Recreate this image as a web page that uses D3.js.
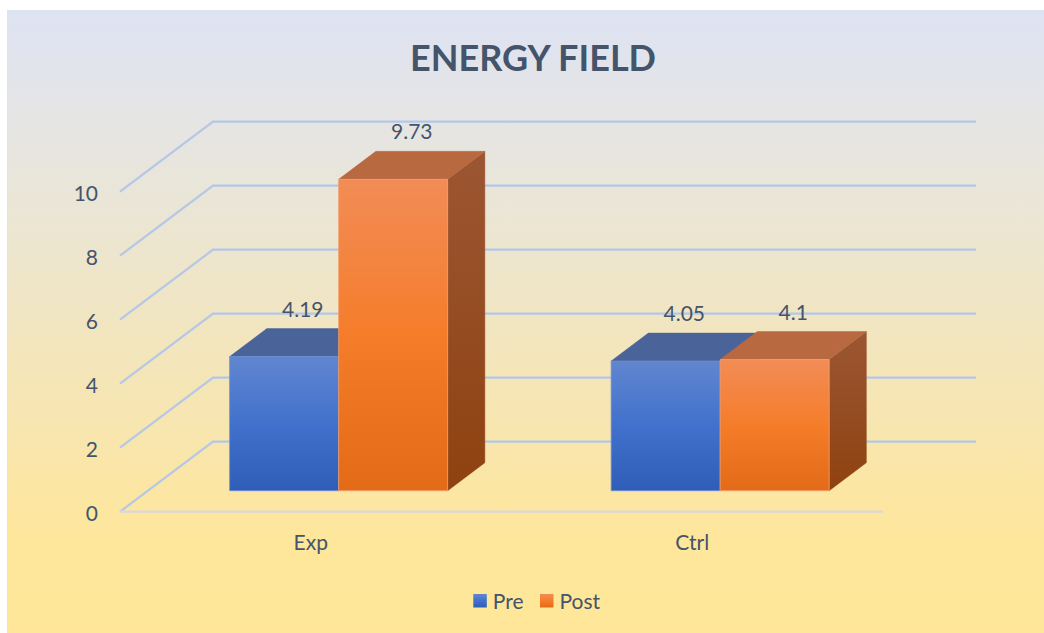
<!DOCTYPE html>
<html>
<head>
<meta charset="utf-8">
<script src="https://cdn.jsdelivr.net/npm/d3@7"></script>
<style>
  html, body { margin: 0; padding: 0; background: #ffffff; }
  svg { display: block; }
  text { font-family: Lato, "Open Sans", sans-serif; }
</style>
</head>
<body>
<svg id="chart" width="1044" height="633"></svg>
<script>
// ---- data ----
const title = "ENERGY FIELD";
const categories = ["Exp", "Ctrl"];
const seriesNames = ["Pre", "Post"];
const preValues = [4.19, 4.05];
const postValues = [9.73, 4.1];
const valueLabels = [["4.19", "9.73"], ["4.05", "4.1"]];
const yTicks = [0, 2, 4, 6, 8, 10];

// ---- layout ----
const W = 1044, H = 633;
const svg = d3.select("#chart");
const defs = svg.append("defs");

const bg = defs.append("linearGradient").attr("id", "bg").attr("x1", 0).attr("y1", 0).attr("x2", 0).attr("y2", 1);
bg.append("stop").attr("offset", "0%").attr("stop-color", "#dee3f3");
bg.append("stop").attr("offset", "20%").attr("stop-color", "#e6e5e2");
bg.append("stop").attr("offset", "85%").attr("stop-color", "#fee69b");
bg.append("stop").attr("offset", "100%").attr("stop-color", "#ffe699");

svg.append("rect").attr("x", 7).attr("y", 10).attr("width", W - 7).attr("height", H - 10)
  .attr("fill", "url(#bg)");
svg.append("line").attr("x1", 7.5).attr("x2", 7.5).attr("y1", 10).attr("y2", H)
  .attr("stroke", "#e3e3e3").attr("stroke-width", 1);

function grad(id, stops) {
  const g = defs.append("linearGradient").attr("id", id).attr("x1", 0).attr("y1", 0).attr("x2", 0).attr("y2", 1);
  stops.forEach(s => g.append("stop").attr("offset", s[0]).attr("stop-color", s[1]));
}
grad("preFront", [["0%", "#6186d0"], ["50%", "#4171cc"], ["100%", "#2f5db8"]]);
grad("postFront", [["0%", "#f28c56"], ["50%", "#f57d2a"], ["100%", "#e36a17"]]);
grad("postSide", [["0%", "#9b5633"], ["100%", "#8f4210"]]);
grad("preSide", [["0%", "#3f5c99"], ["100%", "#2a4a87"]]);

// 3D geometry
const floorFrontY = 511.7;
const depthVec = [93, -70];
const barFront = 0.3, barBack = 0.7;

const x0 = d3.scaleBand().domain(categories).range([120, 883]).padding(0);
const x1 = d3.scaleBand().domain(seriesNames).range([0, x0.bandwidth()]).paddingInner(0).paddingOuter(0.75);
const y = d3.scaleLinear().domain([0, 10]).range([0, 320]);

function proj(px, v, t) {
  return [px + depthVec[0] * t, floorFrontY - y(v) + depthVec[1] * t];
}

// gridlines: side wall diagonals + back wall lines
const grid = svg.append("g");
yTicks.forEach(v => {
  const a = proj(120, v, 0), b = proj(120, v, 1), c = proj(883, v, 1);
  grid.append("polyline")
    .attr("points", [a, b, c].map(p => p.join(",")).join(" "))
    .attr("fill", "none").attr("stroke", "#b4c7e7").attr("stroke-width", 2.2);
});
// floor front line
{
  const a = proj(120, 0, 0), b = proj(883, 0, 0);
  svg.append("line").attr("x1", a[0]).attr("y1", a[1]).attr("x2", b[0]).attr("y2", b[1])
    .attr("stroke", "#d9d9d9").attr("stroke-width", 2.2);
}

// y axis labels (front)
const yAxis = d3.axisLeft(d3.scaleLinear().domain([0, 10]).range([floorFrontY, floorFrontY - 320]))
  .tickValues(yTicks).tickSize(0).tickPadding(0);
const ya = svg.append("g").attr("transform", "translate(98,0)").call(yAxis);
ya.select(".domain").remove();
ya.selectAll("text").attr("font-size", 21).attr("fill", "#44546a")
  .attr("font-family", "Lato, sans-serif").attr("dy", "0.42em").attr("x", 0);

// category labels
svg.append("g").selectAll("text").data(categories).join("text")
  .attr("x", d => x0(d) + x0.bandwidth() / 2)
  .attr("y", 550)
  .attr("text-anchor", "middle").attr("font-size", 21).attr("fill", "#44546a")
  .text(d => d);

// bars
const bars = [];
categories.forEach((c, i) => {
  bars.push({ cat: c, s: "Pre", v: preValues[i], label: valueLabels[i][0] });
  bars.push({ cat: c, s: "Post", v: postValues[i], label: valueLabels[i][1] });
});
const style = {
  Pre: { front: "url(#preFront)", top: "#4a6399", side: "url(#preSide)", stroke: "#6d8fd6" },
  Post: { front: "url(#postFront)", top: "#b8693f", side: "url(#postSide)", stroke: "#f0a070" }
};
const gb = svg.append("g");
bars.forEach(b => {
  const L = x0(b.cat) + x1(b.s), R = L + x1.bandwidth();
  const st = style[b.s];
  const pts = arr => arr.map(p => p.join(",")).join(" ");
  const fbl = proj(L, 0, barFront), fbr = proj(R, 0, barFront);
  const ftl = proj(L, b.v, barFront), ftr = proj(R, b.v, barFront);
  const btl = proj(L, b.v, barBack), btr = proj(R, b.v, barBack), bbr = proj(R, 0, barBack);
  // side face
  gb.append("polygon").attr("points", pts([fbr, ftr, btr, bbr])).attr("fill", st.side)
    .attr("stroke", st.side).attr("stroke-width", 0.5);
  // top face
  gb.append("polygon").attr("points", pts([ftl, ftr, btr, btl])).attr("fill", st.top)
    .attr("stroke", st.top).attr("stroke-width", 0.5);
  // front face
  gb.append("polygon").attr("points", pts([fbl, fbr, ftr, ftl])).attr("fill", st.front)
    .attr("stroke", st.stroke).attr("stroke-width", 0.8);
  b.lx = (ftl[0] + btr[0]) / 2;
  b.ly = btl[1] - 12;
});

// value labels
svg.append("g").selectAll("text").data(bars).join("text")
  .attr("x", d => d.lx).attr("y", d => d.ly)
  .attr("text-anchor", "middle").attr("font-size", 21).attr("fill", "#44546a")
  .text(d => d.label);

// title
svg.append("text").attr("x", 533).attr("y", 71).attr("text-anchor", "middle")
  .attr("font-size", 37).attr("font-weight", "bold").attr("fill", "#44546a")
  .attr("textLength", 246).attr("lengthAdjust", "spacingAndGlyphs")
  .text(title);

// legend
const leg = svg.append("g");
const legendX = d3.scaleOrdinal().domain(seriesNames).range([473.3, 540]);
const legendFill = { Pre: "url(#preFront)", Post: "url(#postFront)" };
seriesNames.forEach(s => {
  const lx = legendX(s);
  leg.append("rect").attr("x", lx).attr("y", 594).attr("width", 13.5).attr("height", 13.5)
    .attr("fill", legendFill[s]);
  leg.append("text").attr("x", lx + 19.5).attr("y", 609).attr("font-size", 21)
    .attr("fill", "#44546a").text(s);
});
</script>
</body>
</html>
